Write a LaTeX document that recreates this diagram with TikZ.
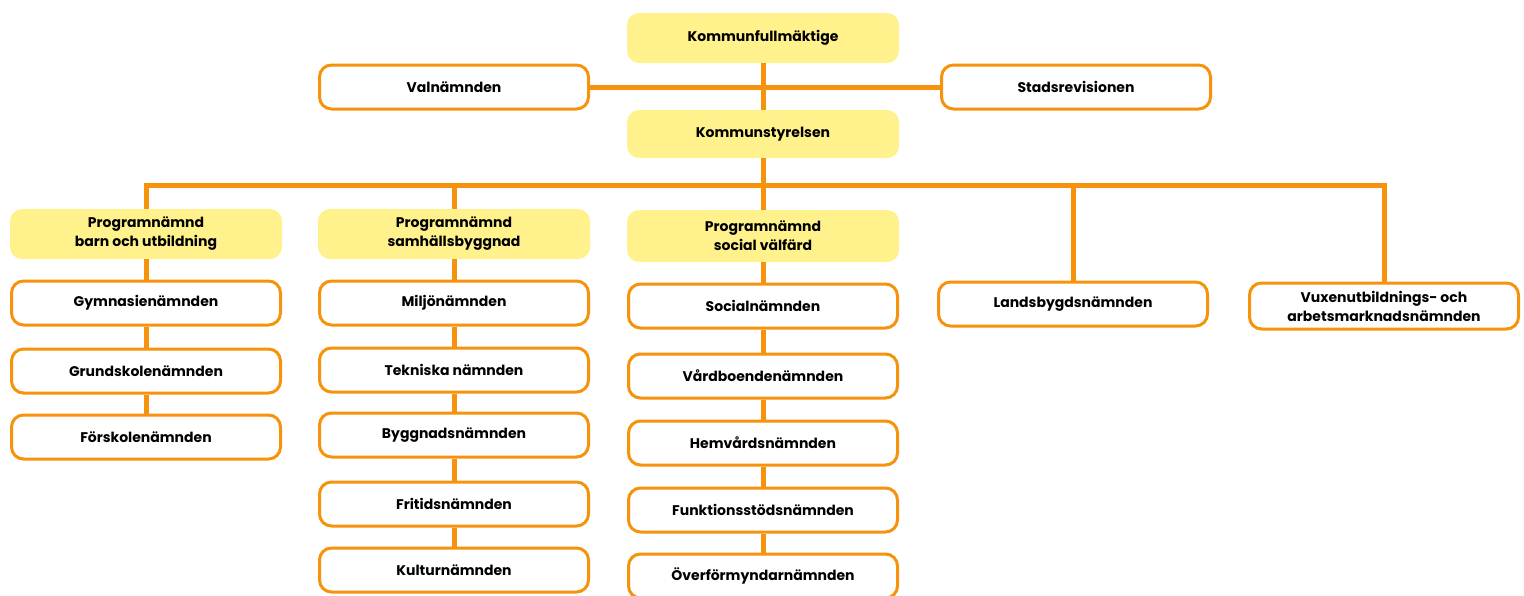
\documentclass[tikz,border=0pt]{standalone}
\usepackage{fontspec}
\setmainfont{Poppins}
\usetikzlibrary{positioning}

\definecolor{orgorange}{RGB}{246,146,12}
\definecolor{orgyellow}{RGB}{255,242,140}

\tikzset{
  every board/.style={rounded corners=6pt, minimum width=136pt, minimum height=24pt,
    align=center, inner sep=1pt, font=\fontsize{7}{9.5}\selectfont\bfseries},
  lead board/.style={every board, fill=orgyellow},
  sub board/.style={every board, draw=orgorange, line width=1.5pt, fill=white,
    minimum width=134.5pt, minimum height=22pt},
  link/.style={draw=orgorange, line width=2.5pt}
}

\begin{document}
\begin{tikzpicture}[x=0.5pt, y=-0.5pt]

\useasboundingbox (0,0) rectangle (1524,595);

% top level
\node [lead board, minimum height=25pt] (kf) at (763,38) {Kommunfullmäktige};
\node [sub board] (val) at (454,87) {Valnämnden};
\node [sub board] (rev) at (1076,87) {Stadsrevisionen};
\node [lead board] (ks) at (763,134) {Kommunstyrelsen};

% program boards
\node [lead board, minimum height=25pt] (pnbarn) at (146,234) {Programnämnd\\barn och utbildning};
\node [lead board, minimum height=25pt] (pnsam) at (454,234) {Programnämnd\\samhällsbyggnad};
\node [lead board, minimum height=26pt] (pnsoc) at (763,236) {Programnämnd\\social välfärd};
\node [sub board] (lands) at (1073,304) {Landsbygdsnämnden};
\node [sub board, minimum height=23pt] (vux) at (1384,306) {Vuxenutbildnings- och\\arbetsmarknadsnämnden};

\foreach \t/\y [count=\i] in {Gymnasienämnden/303, Grundskolenämnden/371, Förskolenämnden/437}
  \node [sub board] (barn-\i) at (146,\y) {\t};

\foreach \t/\y [count=\i] in {Miljönämnden/303, Tekniska nämnden/370, Byggnadsnämnden/435,
    Fritidsnämnden/504, Kulturnämnden/570}
  \node [sub board] (sam-\i) at (454,\y) {\t};

\foreach \t/\y [count=\i] in {Socialnämnden/306, Vårdboendenämnden/376, Hemvårdsnämnden/443,
    Funktionsstödsnämnden/510, Överförmyndarnämnden/576}
  \node [sub board] (soc-\i) at (763,\y) {\t};

% connectors
\coordinate (bus) at (763,185);

\draw [link] (val.east) -- (rev.west);
\draw [link] (kf.south) -- (ks.north);
\draw [link] (ks.south) -- (bus);
\draw [link] (pnbarn.north) |- (bus) -| (vux.north);

\foreach \n in {pnsam, pnsoc, lands}
  \draw [link] (\n.north) -- (\n.north |- bus);

\foreach \a/\b in {pnbarn/barn-1, barn-1/barn-2, barn-2/barn-3,
    pnsam/sam-1, sam-1/sam-2, sam-2/sam-3, sam-3/sam-4, sam-4/sam-5,
    pnsoc/soc-1, soc-1/soc-2, soc-2/soc-3, soc-3/soc-4, soc-4/soc-5}
  \draw [link] (\a.south) -- (\b.north);

\end{tikzpicture}
\end{document}
